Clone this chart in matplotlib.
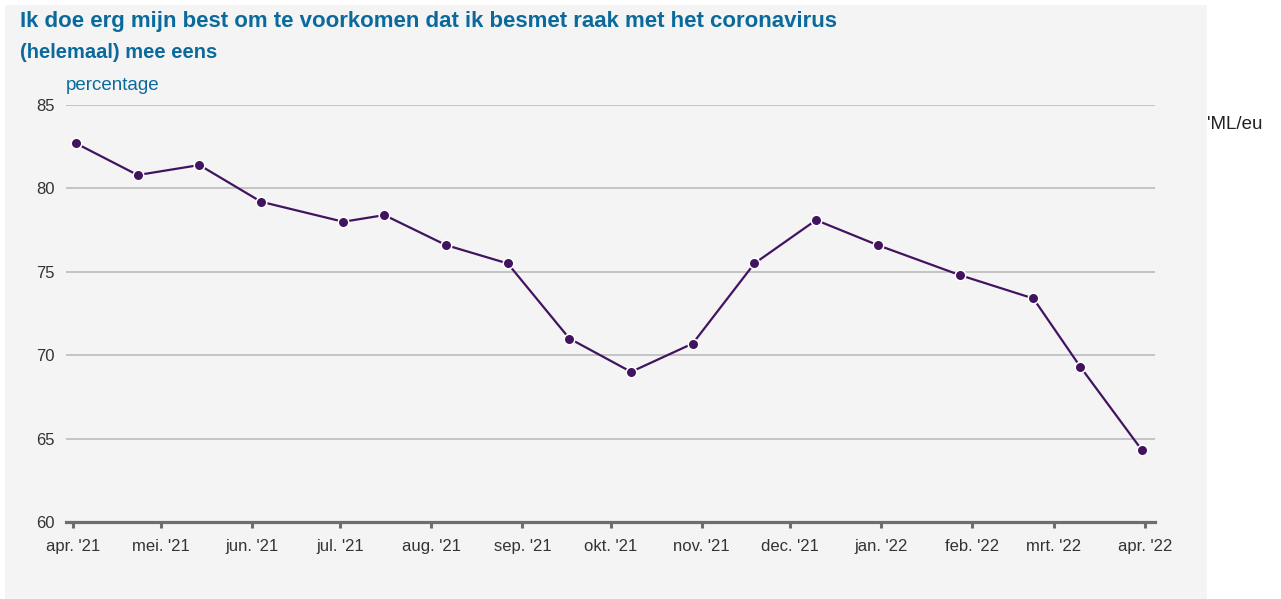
import numpy as np
import pandas as pd
import matplotlib
matplotlib.use("Agg")
import matplotlib.pyplot as plt
import matplotlib.dates as mdates
from matplotlib.patches import Rectangle

plt.rcParams['font.family'] = ['Liberation Sans', 'DejaVu Sans']

# data
dates = pd.to_datetime([
    "2021-04-02", "2021-04-23", "2021-05-14", "2021-06-04", "2021-07-02",
    "2021-07-16", "2021-08-06", "2021-08-27", "2021-09-17", "2021-10-08",
    "2021-10-29", "2021-11-19", "2021-12-10", "2021-12-31", "2022-01-28",
    "2022-02-22", "2022-03-10", "2022-03-31"])
values = [82.7, 80.8, 81.4, 79.2, 78.0, 78.4, 76.6, 75.5, 71.0, 69.0,
          70.7, 75.5, 78.1, 76.6, 74.8, 73.4, 69.3, 64.3]

tick_dates = pd.date_range("2021-04-01", "2022-04-01", freq="MS")
tick_labels = ["apr. '21", "mei. '21", "jun. '21", "jul. '21", "aug. '21",
               "sep. '21", "okt. '21", "nov. '21", "dec. '21", "jan. '22",
               "feb. '22", "mrt. '22", "apr. '22"]
yticks = [60, 65, 70, 75, 80, 85]

title = "Ik doe erg mijn best om te voorkomen dat ik besmet raak met het coronavirus"
subtitle = "(helemaal) mee eens"

W, H = 1281, 599
blue = "#0b6a9c"
purple = "#42145f"

fig = plt.figure(figsize=(W / 100, H / 100), dpi=100)
fig.patch.set_facecolor("white")
bg = Rectangle((5 / W, 0), 1202 / W, 1 - 5 / H, transform=fig.transFigure,
               facecolor="#f4f4f4", edgecolor="none", zorder=-10)
fig.patches.append(bg)

ax = fig.add_axes([66 / W, 1 - 522 / H, (1155 - 66) / W, (522 - 105) / H])
ax.set_facecolor("none")
ax.set_zorder(1)

ax.plot(dates, values, color=purple, lw=1.6, marker="o", ms=7.6,
        markerfacecolor=purple, markeredgecolor="white", markeredgewidth=1.1,
        zorder=3, clip_on=False)

ax.set_ylim(60, 85)
ax.set_yticks(yticks)
ax.set_xlim(pd.Timestamp("2021-03-29 14:00"), pd.Timestamp("2022-04-04 10:00"))
ax.set_xticks(tick_dates)
ax.set_xticklabels(tick_labels)

for y in yticks[1:]:
    ax.axhline(y, color="#c4c4c4", lw=1.4, zorder=1)
ax.axhline(60, color="#6e6e6e", lw=2.3, zorder=2, clip_on=False)

for s in ax.spines.values():
    s.set_visible(False)
ax.tick_params(axis="y", length=0, pad=8, labelsize=12, labelcolor="#333333")
ax.tick_params(axis="x", length=4, width=2.2, color="#6e6e6e", pad=8,
               labelsize=12, labelcolor="#333333")

fig.text(20 / W, 1 - 21 / H, title, color=blue, fontsize=16, fontweight="bold",
         va="center", ha="left")
fig.text(20 / W, 1 - 53 / H, subtitle, color=blue, fontsize=14.5, fontweight="bold",
         va="center", ha="left")
fig.text(66 / W, 1 - 86 / H, "percentage", color=blue, fontsize=13.5,
         va="center", ha="left")
fig.text(1207 / W, 1 - 124 / H, "'ML/eu", color="#222222", fontsize=13.5,
         va="center", ha="left")

fig.savefig("out.png", dpi=100)
